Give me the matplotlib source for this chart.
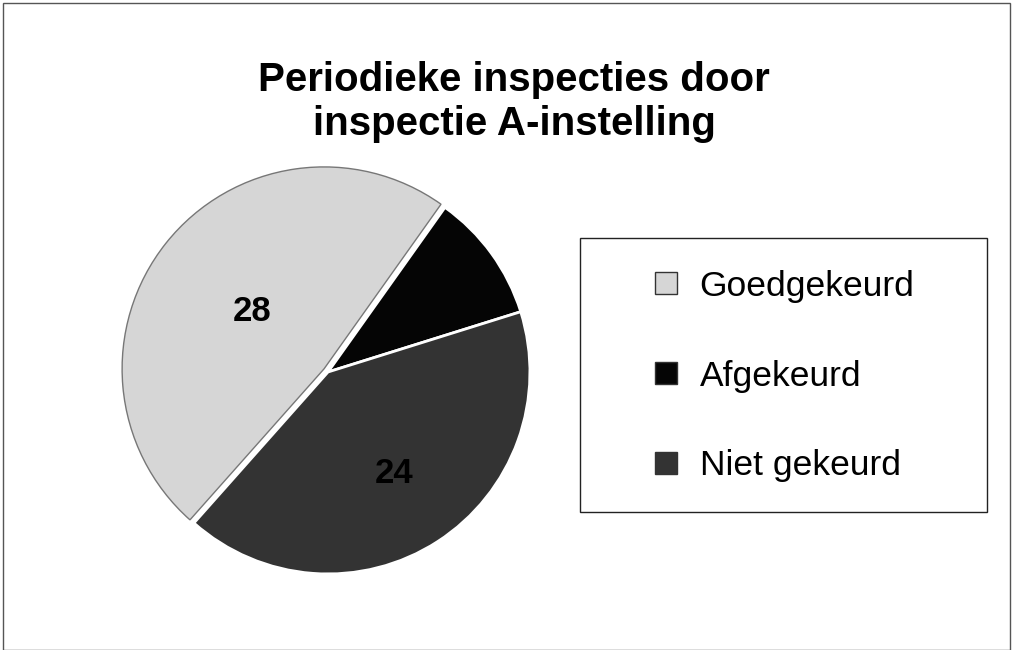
import matplotlib
matplotlib.use('Agg')
import matplotlib.pyplot as plt
from matplotlib.lines import Line2D
from matplotlib.patches import Rectangle

plt.rcParams['font.family'] = ['Liberation Sans', 'DejaVu Sans']

# data
labels = ['Goedgekeurd', 'Afgekeurd', 'Niet gekeurd']
values = [28, 6, 24]
value_labels = ['28', '', '24']   # the black slice shows no readable label
colors = ['#d6d6d6', '#050505', '#333333']
title = 'Periodieke inspecties door\ninspectie A-instelling'

W, H = 1013, 650
fig = plt.figure(figsize=(W / 100, H / 100), dpi=100)

# pie axes: centre (328, 372) px, radius ~208 px
cx, cy, r = 328, 372, 208
ax = fig.add_axes([(cx - r) / W, (H - cy - r) / H, 2 * r / W, 2 * r / H])
wedges, texts = ax.pie(values, colors=colors, startangle=228.4, counterclock=False,
                       explode=[0.025, 0, 0], labels=value_labels,
                       labeldistance=1.0,
                       wedgeprops=dict(edgecolor='white', linewidth=2))
wedges[0].set_edgecolor('#777777')
wedges[0].set_linewidth(1)
label_dist = [0.47, 0.6, 0.6]
for t, d in zip(texts, label_dist):
    x, y = t.get_position()
    t.set_position((x * d, y * d))
    t.set_fontsize(25)
    t.set_fontweight('bold')
    t.set_color('black')
    t.set_ha('center')
    t.set_va('center')
ax.set_xlim(-1.03, 1.03)
ax.set_ylim(-1.03, 1.03)
ax.set_aspect('equal')
ax.axis('off')

fig.text(514 / W, 1 - 102 / H, title, ha='center', va='center', fontsize=29,
         fontweight='bold', linespacing=1.2)

# legend box
fig.patches.append(Rectangle((580 / W, 1 - 512 / H), 407 / W, 274 / H,
                             transform=fig.transFigure, fill=False,
                             edgecolor='#222222', linewidth=1))
handles = [Line2D([], [], linestyle='none', marker='s', markersize=16,
                  markerfacecolor=c, markeredgecolor='#333333') for c in colors]
fig.legend(handles, labels, loc='center left', bbox_to_anchor=(650 / W, 1 - 376 / H),
           frameon=False, fontsize=25.5, labelspacing=1.6, handlelength=0.9,
           handletextpad=0.5, borderpad=0, borderaxespad=0)

# outer frame
fig.patches.append(Rectangle((3 / W, 0), (W - 6) / W, 1 - 3 / H,
                             transform=fig.transFigure, fill=False,
                             edgecolor='#555555', linewidth=1))

fig.savefig('out.png', dpi=100)
